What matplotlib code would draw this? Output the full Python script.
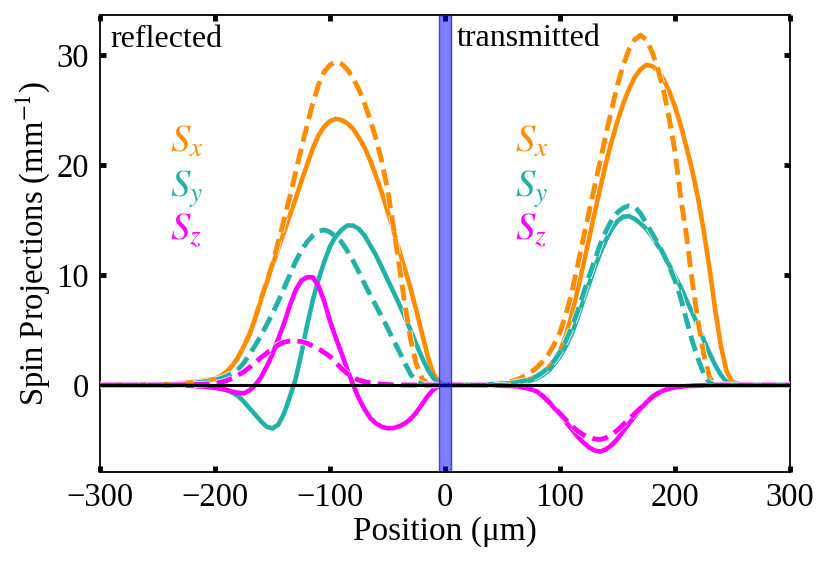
import matplotlib
matplotlib.use("Agg")
import matplotlib.pyplot as plt
import matplotlib.patheffects as pe

# Position grid (um) shared by all curves
position = [-300, -260, -240, -220, -210,
            -200, -195, -190, -185, -180, -175, -170, -165, -160, -155,
            -150, -145, -140, -135, -130, -125, -120, -115, -110, -105,
            -100, -95, -90, -85, -80, -75, -70, -65, -60, -55,
            -50, -45, -40, -35, -30, -25, -20, -15, -10, -5, 0,
            10, 20, 30,
            40, 45, 50, 55, 60, 65, 70, 75, 80, 85,
            90, 95, 100, 105, 110, 115, 120, 125, 130, 135,
            140, 145, 150, 155, 160, 165, 170, 175, 180, 185,
            190, 195, 200, 205, 210, 215, 220, 225, 230, 235,
            240, 245, 250,
            260, 280, 300]

# Spin projections (mm^-1): solid = exact, dashed = approximation
sx_solid = [0, 0.02, 0.08, 0.25, 0.4,
            0.55, 0.8, 1.2, 1.75, 2.5, 3.5, 4.6, 6.1, 7.7, 9.3,
            10.9, 12.4, 13.9, 15.4, 16.9, 18.5, 20.0, 21.5, 22.7, 23.5,
            24.0, 24.2, 24.1, 23.8, 23.3, 22.5, 21.6, 20.4, 19.0, 17.5,
            15.8, 14.1, 12.3, 10.6, 8.8, 6.8, 4.7, 2.6, 1.0, 0.25, 0,
            0, 0, 0.02,
            0.05, 0.07, 0.1, 0.14, 0.2, 0.28, 0.4, 0.57, 0.8, 1.15,
            1.6, 2.25, 3.1, 4.5, 6.3, 8.5, 10.8, 13.2, 15.6, 17.9,
            20.2, 22.2, 24.0, 25.6, 26.9, 28.0, 28.7, 29.1, 29.0, 28.6,
            27.8, 26.7, 25.3, 23.6, 21.6, 19.5, 17.0, 14.0, 10.6, 6.8,
            3.5, 1.2, 0.25,
            0, 0, 0]
sx_dashed = [0, 0.02, 0.08, 0.25, 0.4,
             0.55, 0.8, 1.2, 1.75, 2.5, 3.5, 4.6, 6.1, 7.8, 9.4,
             11.0, 13.0, 15.0, 17.1, 19.3, 21.5, 23.6, 25.6, 27.3, 28.5,
             29.1, 29.4, 29.2, 28.7, 27.9, 26.9, 25.6, 24.1, 22.4, 20.3,
             17.8, 14.5, 11.0, 7.4, 4.2, 1.9, 0.6, 0.12, 0.02, 0, 0,
             0, 0.01, 0.03,
             0.08, 0.12, 0.2, 0.28, 0.4, 0.6, 0.9, 1.2, 1.6, 2.15,
             2.8, 3.7, 4.8, 6.4, 8.3, 10.7, 13.2, 15.6, 18.0, 20.4,
             22.8, 25.1, 27.3, 29.1, 30.5, 31.4, 31.8, 31.4, 30.3, 28.8,
             26.8, 24.2, 21.2, 17.0, 13.6, 9.4, 5.8, 2.8, 0.7, 0.1,
             0, 0, 0,
             0, 0, 0]
sy_solid = [0, 0, -0.02, -0.05, -0.1,
            -0.2, -0.3, -0.45, -0.7, -1.0, -1.5, -2.1, -2.7, -3.3, -3.8,
            -3.95, -3.6, -2.6, -1.1, 0.5, 2.8, 5.4, 7.7, 9.6, 11.2,
            12.6, 13.5, 14.1, 14.5, 14.5, 14.2, 13.6, 12.7, 11.8, 10.7,
            9.6, 8.5, 7.4, 6.2, 5.0, 3.7, 2.5, 1.4, 0.6, 0.15, 0,
            0, 0, 0.01,
            0.05, 0.06, 0.1, 0.12, 0.15, 0.22, 0.3, 0.43, 0.6, 0.9,
            1.3, 1.9, 2.6, 3.5, 4.6, 6.0, 7.6, 9.1, 10.6, 12.0,
            13.2, 14.2, 14.9, 15.3, 15.35, 15.1, 14.7, 14.2, 13.5, 12.7,
            11.8, 10.9, 9.9, 8.9, 7.7, 6.6, 5.4, 4.1, 2.9, 1.8,
            0.9, 0.25, 0.05,
            0, 0, 0]
sy_dashed = [0, 0.01, 0.05, 0.15, 0.28,
             0.45, 0.6, 0.8, 1.05, 1.4, 2.0, 2.8, 3.6, 4.5, 5.5,
             6.5, 7.6, 8.8, 10.0, 11.2, 12.2, 13.0, 13.6, 14.0, 14.1,
             13.9, 13.5, 13.0, 12.2, 11.3, 10.3, 9.2, 8.2, 7.2, 6.2,
             5.2, 4.1, 3.1, 2.0, 1.0, 0.35, 0.08, 0.01, 0, 0, 0,
             0, 0, 0.02,
             0.05, 0.08, 0.12, 0.16, 0.2, 0.3, 0.4, 0.57, 0.8, 1.15,
             1.6, 2.2, 3.0, 4.0, 5.2, 6.6, 8.2, 9.8, 11.3, 12.8,
             14.0, 15.0, 15.7, 16.1, 16.3, 16.2, 15.6, 14.7, 13.8, 12.9,
             11.9, 10.8, 9.5, 7.9, 5.9, 4.0, 2.4, 1.0, 0.2, 0.02,
             0, 0, 0,
             0, 0, 0]
sz_solid = [0, 0, -0.02, -0.08, -0.15,
            -0.25, -0.35, -0.45, -0.6, -0.7, -0.75, -0.5, 0.0, 0.7, 1.7,
            2.8, 4.2, 5.6, 7.2, 8.6, 9.5, 9.8, 9.8, 9.0, 7.6,
            5.8, 4.3, 2.9, 1.4, 0.05, -1.2, -2.2, -3.0, -3.5, -3.8,
            -3.93, -3.92, -3.75, -3.5, -3.1, -2.5, -1.75, -1.0, -0.4, -0.08, 0,
            0, 0, -0.01,
            -0.02, -0.03, -0.05, -0.07, -0.1, -0.16, -0.25, -0.4, -0.6, -1.0,
            -1.5, -2.1, -2.7, -3.35, -4.0, -4.65, -5.2, -5.65, -5.95, -6.05,
            -5.85, -5.45, -4.9, -4.2, -3.5, -2.85, -2.2, -1.6, -1.1, -0.75,
            -0.5, -0.33, -0.2, -0.15, -0.1, -0.07, -0.05, -0.03, -0.02, -0.01,
            0, 0, 0,
            0, 0, 0]
sz_dashed = [0, 0, 0.01, 0.03, 0.08,
             0.15, 0.25, 0.4, 0.62, 0.9, 1.2, 1.6, 2.05, 2.5, 2.9,
             3.3, 3.65, 3.9, 4.0, 4.0, 3.95, 3.8, 3.55, 3.3, 2.95,
             2.6, 2.05, 1.5, 1.05, 0.7, 0.45, 0.3, 0.2, 0.12, 0.07,
             0.04, 0.02, 0.01, 0, 0, 0, 0, 0, 0, 0, 0,
             0, 0, -0.01,
             -0.02, -0.03, -0.05, -0.07, -0.1, -0.16, -0.25, -0.4, -0.6, -1.0,
             -1.5, -2.05, -2.6, -3.15, -3.7, -4.15, -4.5, -4.75, -4.9, -4.95,
             -4.8, -4.5, -4.1, -3.6, -3.1, -2.6, -2.1, -1.6, -1.1, -0.75,
             -0.5, -0.33, -0.2, -0.15, -0.1, -0.07, -0.05, -0.03, -0.02, -0.01,
             0, 0, 0,
             0, 0, 0]

ORANGE = "#ff8c00"
TEAL = "#20b2aa"
MAGENTA = "#ff00ff"

plt.rcParams["font.family"] = ["Liberation Serif", "DejaVu Serif"]
plt.rcParams["mathtext.fontset"] = "stix"

fig = plt.figure(figsize=(8.3, 5.62), dpi=100)
ax = fig.add_axes([0.1205, 0.1607, 0.8313, 0.8126])

# Solid curves
for ys, c in [(sx_solid, ORANGE), (sy_solid, TEAL), (sz_solid, MAGENTA)]:
    ax.plot(position, ys, color=c, lw=3.3, solid_joinstyle="round",
            solid_capstyle="round", zorder=3)

# Dashed curves with a thin white edge
halo = [pe.Stroke(linewidth=4.6, foreground="white"), pe.Normal()]
for ys, c in [(sx_dashed, ORANGE), (sy_dashed, TEAL), (sz_dashed, MAGENTA)]:
    ax.plot(position, ys, color=c, lw=3.5, dashes=(3.3, 1.5),
            dash_capstyle="butt", dash_joinstyle="round",
            path_effects=halo, zorder=4)

# Zero line and barrier
ax.axhline(0, color="black", lw=2.2, zorder=5)
ax.axvspan(-5, 5.5, facecolor=(0, 0, 1, 0.5), edgecolor=(0, 0, 1, 0.7),
           lw=1, zorder=6)

ax.set_xlim(-300, 300)
ax.set_ylim(-7.88, 33.64)
ax.set_xticks([-300, -200, -100, 0, 100, 200, 300])
ax.set_yticks([0, 10, 20, 30])
ax.tick_params(direction="in", length=4.5, width=3.5, top=True, right=True,
               labelsize=23.5, pad=8)
for s in ax.spines.values():
    s.set_linewidth(1.3)

ax.set_xlabel("Position (μm)", fontsize=24, labelpad=2)
ax.set_ylabel("Spin Projections (mm$^{-1}$)", fontsize=23.5, labelpad=3)

# Region labels
ax.text(-291, 30.7, "reflected", fontsize=23, va="baseline")
ax.text(10.5, 30.8, "transmitted", fontsize=23, va="baseline")

# Colour key, repeated on both sides
for x0 in [-239, 61]:
    ax.text(x0, 21.2, "$S_x$", color=ORANGE, fontsize=28, va="baseline")
    ax.text(x0, 17.1, "$S_y$", color=TEAL, fontsize=28, va="baseline")
    ax.text(x0, 13.2, "$S_z$", color=MAGENTA, fontsize=28, va="baseline")

fig.savefig("out.png", dpi=100)
